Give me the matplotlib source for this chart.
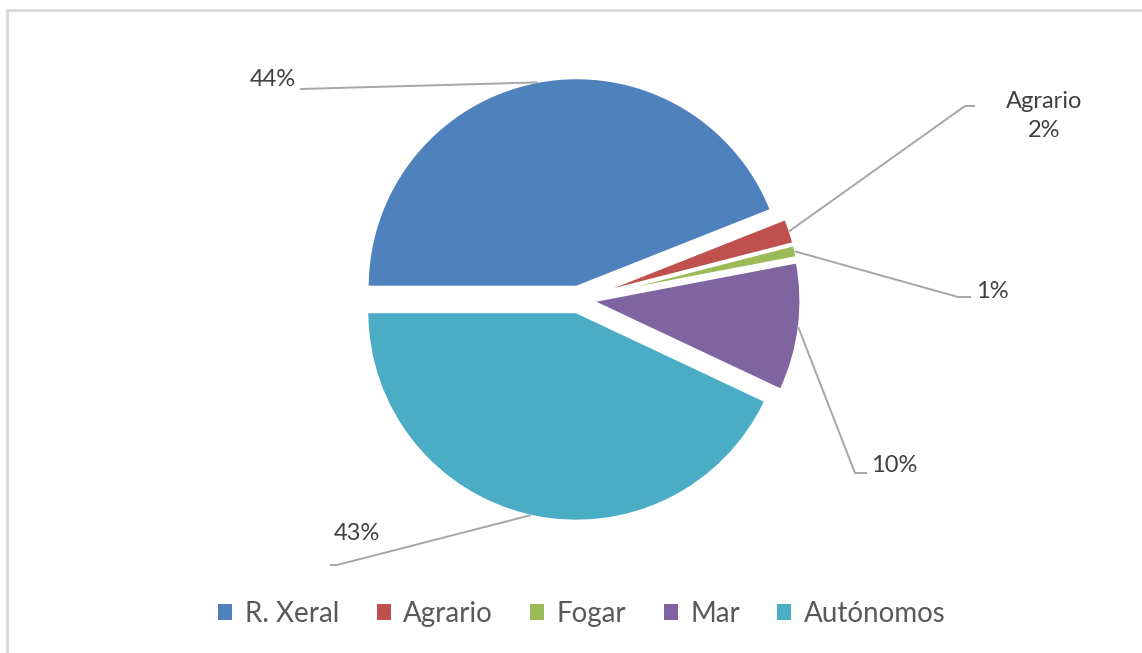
import matplotlib
matplotlib.use("Agg")
import matplotlib.pyplot as plt
from matplotlib.patches import Patch, Rectangle
import numpy as np

categories = ["R. Xeral", "Agrario", "Fogar", "Mar", "Autónomos"]
values = [44, 2, 1, 10, 43]
colors = ["#4F81BD", "#C0504D", "#9BBB59", "#8064A2", "#4BACC6"]
label_texts = ["44%", "Agrario\n2%", "1%", "10%", "43%"]

W, H = 1142, 653
fig = plt.figure(figsize=(W / 100, H / 100), dpi=100)
fig.patch.set_facecolor("white")
ax = fig.add_axes([0, 0, 1, 1])

# chart area border (top and left visible)
fig.patches.append(Rectangle((7 / W, -0.2), 1.2, 1.2 - 10 / H,
                             transform=fig.transFigure, fill=False,
                             edgecolor="#d9d9d9", linewidth=2, zorder=0))

cx, cy, R = 579, H - 299.5, 209.5
wedges, _ = ax.pie(values, colors=colors, startangle=180, counterclock=False,
                   explode=[12.5] * len(values), center=(cx, cy), radius=R,
                   wedgeprops=dict(edgecolor="white", linewidth=2.2),
                   frame=True)
ax.set_xlim(0, W)
ax.set_ylim(0, H)
ax.axis("off")

# label layout in pixel coords (y from top)
layout = [
    dict(tx=296, ty=80, ha="right", ex=300, lx=300, ly=89),
    dict(tx=1044, ty=116, ha="center", ex=965, lx=975, ly=106),
    dict(tx=976, ty=292, ha="left", ex=958, lx=971, ly=297),
    dict(tx=871, ty=466, ha="left", ex=855, lx=867, ly=473),
    dict(tx=357, ty=533, ha="center", ex=337, lx=330, ly=565),
]

for w, txt, lay in zip(wedges, label_texts, layout):
    mid = np.deg2rad((w.theta1 + w.theta2) / 2)
    wx, wy = w.center
    px = wx + (w.r - 1) * np.cos(mid)
    py = wy + (w.r - 1) * np.sin(mid)
    ax.plot([px, lay["ex"], lay["lx"]], [py, H - lay["ly"], H - lay["ly"]],
            color="#a6a6a6", linewidth=1.4, solid_capstyle="butt", zorder=3)
    ax.text(lay["tx"], H - lay["ty"], txt, ha=lay["ha"], va="center",
            fontsize=17, color="#404040", family="Lato", linespacing=1.5)

handles = [Patch(facecolor=c, edgecolor="none") for c in colors]
leg = fig.legend(handles, categories, loc="center", bbox_to_anchor=(582 / W, 1 - 614 / H),
                 ncol=5, frameon=False, handlelength=0.5, handleheight=0.5,
                 handletextpad=0.45, columnspacing=1.35,
                 prop=dict(family="Lato", size=20))
for t in leg.get_texts():
    t.set_color("#595959")

fig.savefig("out.png", dpi=100, facecolor="white")
